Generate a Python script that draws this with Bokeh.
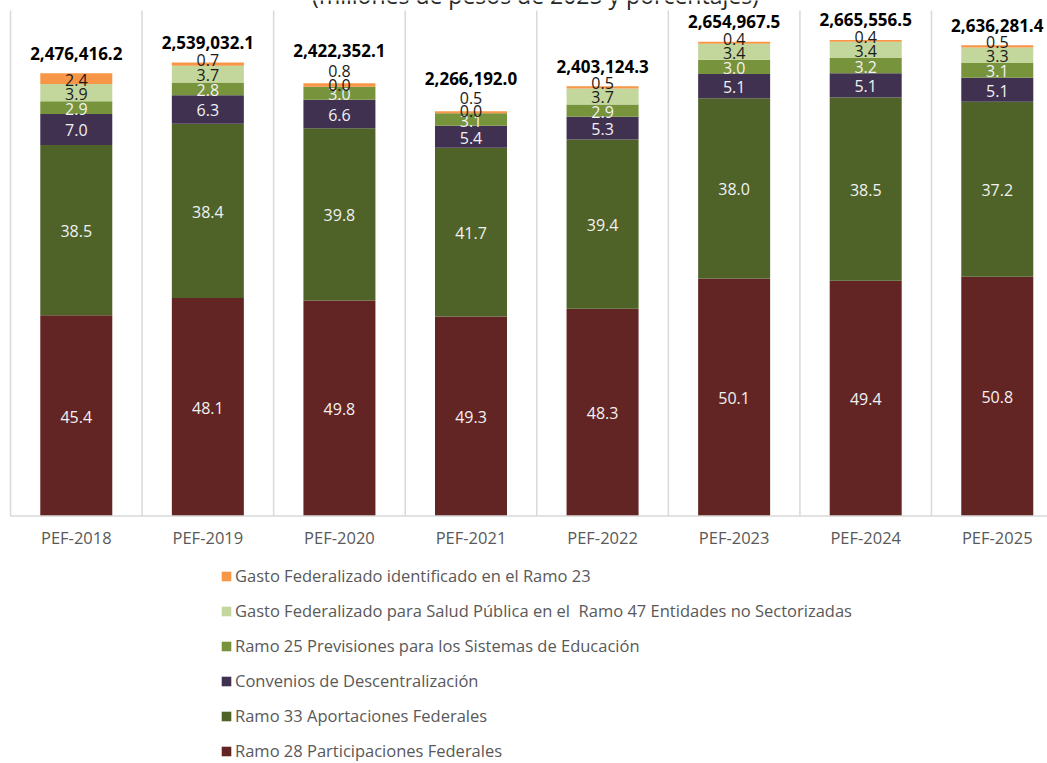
from bokeh.plotting import figure
from bokeh.models import ColumnDataSource, Range1d, Legend, LegendItem
from bokeh.core.properties import value
from bokeh.embed import file_html
from bokeh.resources import INLINE

# ---------------- data ----------------
years = ["PEF-2018", "PEF-2019", "PEF-2020", "PEF-2021",
         "PEF-2022", "PEF-2023", "PEF-2024", "PEF-2025"]
totals = [2476416.2, 2539032.1, 2422352.1, 2266192.0,
          2403124.3, 2654967.5, 2665556.5, 2636281.4]
ramo28 = [45.4, 48.1, 49.8, 49.3, 48.3, 50.1, 49.4, 50.8]
ramo33 = [38.5, 38.4, 39.8, 41.7, 39.4, 38.0, 38.5, 37.2]
convenios = [7.0, 6.3, 6.6, 5.4, 5.3, 5.1, 5.1, 5.1]
ramo25 = [2.9, 2.8, 3.0, 3.1, 2.9, 3.0, 3.2, 3.1]
ramo47 = [3.9, 3.7, 0.0, 0.0, 3.7, 3.4, 3.4, 3.3]
ramo23 = [2.4, 0.7, 0.8, 0.5, 0.5, 0.4, 0.4, 0.5]

series_names = [
    "Ramo 28 Participaciones Federales",
    "Ramo 33 Aportaciones Federales",
    "Convenios de Descentralización",
    "Ramo 25 Previsiones para los Sistemas de Educación",
    "Gasto Federalizado para Salud Pública en el  Ramo 47 Entidades no Sectorizadas",
    "Gasto Federalizado identificado en el Ramo 23",
]
series_values = [ramo28, ramo33, convenios, ramo25, ramo47, ramo23]
title_text = "(millones de pesos de 2025 y porcentajes)"

# ---------------- style ----------------
colors = ["#632523", "#4F6228", "#403151", "#77933C", "#C3D69B", "#F79646"]
label_colors = ["#F2F2F2", "#F2F2F2", "#F2F2F2", "#F2F2F2", "#1A1A1A", "#1A1A1A"]
FONT = value("Open Sans")

W, H = 1047, 763
PX0 = 10.0         # x of first category boundary (px)
CAT = 131.57       # px per category
BASE = 515.5       # y of zero line (px from top)
K = 5599.0         # data units per px
BAR_W = 72.0 / CAT

x_range = Range1d(-0.5 - PX0 / CAT, -0.5 + (W - PX0) / CAT)
y_range = Range1d(-(H - BASE) * K, BASE * K)

p = figure(width=W, height=H, x_range=x_range, y_range=y_range,
           output_backend="svg", toolbar_location=None,
           x_axis_location=None, y_axis_location=None,
           min_border=0, min_border_left=0, min_border_right=0,
           min_border_top=0, min_border_bottom=0)
p.grid.visible = False
p.outline_line_color = None
p.background_fill_color = "white"
p.border_fill_color = "white"

idx = list(range(len(years)))

# vertical gridlines at category boundaries
bounds = [i - 0.5 for i in range(len(years) + 1)]
p.segment(x0=bounds, y0=[0] * len(bounds), x1=bounds,
          y1=[(BASE - 10) * K] * len(bounds),
          line_color="#D9D9D9", line_width=1.5)

# stacked bars
renderers = []
bottoms = [0.0] * len(years)
label_x, label_y, label_t, label_c, label_off = [], [], [], [], []
for s, (vals, col, lcol) in enumerate(zip(series_values, colors, label_colors)):
    heights = [t * v / 100.0 for t, v in zip(totals, vals)]
    tops = [b + h for b, h in zip(bottoms, heights)]
    src = ColumnDataSource(dict(x=idx, bottom=bottoms, top=tops))
    r = p.vbar(x="x", width=BAR_W, bottom="bottom", top="top", source=src,
               fill_color=col, line_color=None)
    renderers.append(r)
    for i in idx:
        label_x.append(i)
        label_y.append((bottoms[i] + tops[i]) / 2.0)
        label_t.append(f"{vals[i]:.1f}")
        label_c.append(lcol)
        seg_px = heights[i] / K
        off = 1.0
        if s == len(series_values) - 1 and seg_px < 8:
            off = -4.0
            if ramo47[i] == 0:
                off = -14.0
        elif seg_px < 1:
            off = -2.0
        label_off.append(off)
    bottoms = tops

# baseline
p.segment(x0=[-0.5], y0=[0], x1=[x_range.end], y1=[0],
          line_color="#D9D9D9", line_width=1.5)

# segment labels
lsrc = ColumnDataSource(dict(x=label_x, y=label_y, t=label_t, c=label_c, o=label_off))
p.text(x="x", y="y", text="t", text_color="c", y_offset="o", source=lsrc,
       text_align="center", text_baseline="middle",
       text_font=FONT, text_font_size="16px")

# totals
tot_off = [-33.0 if ramo47[i] == 0 else -20.0 for i in idx]
tsrc = ColumnDataSource(dict(x=idx, y=totals, t=[f"{v:,.1f}" for v in totals], o=tot_off))
p.text(x="x", y="y", text="t", y_offset="o", source=tsrc,
       text_align="center", text_baseline="middle",
       text_font=FONT, text_font_size="17px", text_font_style="bold",
       text_color="#000000")

# category labels
p.text(x=idx, y=[-(21.5) * K] * len(idx), text=years,
       text_align="center", text_baseline="middle",
       text_font=FONT, text_font_size="16.5px", text_color="#595959")

# title (cut off at the top, as in the source image)
p.text(x=[-0.5 + (535 - PX0) / CAT], y=[(BASE + 6) * K], text=[title_text],
       text_align="center", text_baseline="middle",
       text_font=FONT, text_font_size="23px", text_color="#262626")

# legend
items = [LegendItem(label=name, renderers=[r])
         for name, r in reversed(list(zip(series_names, renderers)))]
legend = Legend(items=items, location=(220, 1), orientation="vertical",
                label_text_font="Open Sans", label_text_font_size="16.5px",
                label_text_color="#595959", glyph_width=12, glyph_height=12,
                label_height=20, spacing=12, padding=0, margin=0,
                label_standoff=3, border_line_color=None,
                background_fill_alpha=0)
p.add_layout(legend)

open("out.html", "w").write(file_html(p, INLINE))
